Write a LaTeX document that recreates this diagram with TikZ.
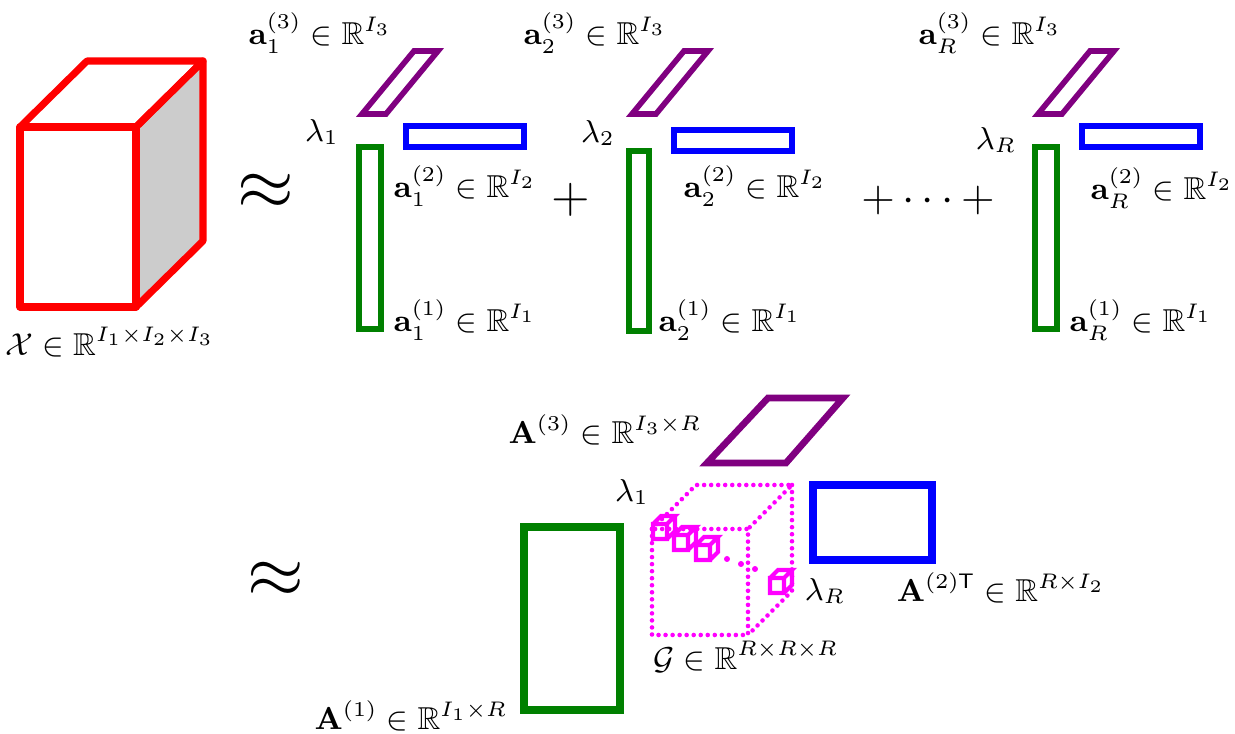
\documentclass[tikz,border=0pt]{standalone}
\usepackage{amsmath,amssymb}
\usepackage{tikz}
\usetikzlibrary{calc}
\definecolor{cpred}{HTML}{FF0000}
\definecolor{cpgreen}{HTML}{008000}
\definecolor{cpblue}{HTML}{0000FF}
\definecolor{cppurple}{HTML}{800080}
\definecolor{cpmag}{HTML}{FF00FF}
\definecolor{cpgray}{HTML}{CCCCCC}
\tikzset{
  tensor/.style={draw=cpred, line width=2pt, line join=round},
  modeone/.style={draw=cpgreen, line width=1.8pt},
  modetwo/.style={draw=cpblue, line width=1.8pt},
  modethree/.style={draw=cppurple, line width=1.6pt, line join=miter, miter limit=4},
  core/.style={draw=cpmag, line width=1.3pt, line cap=round, dash pattern=on 0pt off 2pt},
  minicube/.style={draw=cpmag, line width=1.2pt},
  lbl/.style={inner sep=1pt, font=\small},
  op/.style={inner sep=0pt}
}
\begin{document}
\begin{tikzpicture}[x=0.01cm, y=-0.01cm]
  \useasboundingbox (0,0) rectangle (1235,734);
  % data tensor
  \filldraw[tensor, fill=cpgray] (136,127) -- (203,61) -- (203,241) -- (136,307) -- cycle;
  \draw[tensor] (20,127) -- (87,61) -- (203,61) -- (136,127) -- cycle;
  \draw[tensor] (20,127) rectangle (136,307);
  \node[lbl] (xlab) at (110,342) {$\mathcal{X} \in \mathbb{R}^{I_1\times I_2\times I_3}$};
  \node[op, font=\huge] (approx1) at (266,192) {$\approx$};
  % rank-one term 1
  \draw[modethree] (362,114) -- (386,114) -- (438,51) -- (414,51) -- cycle;
  \draw[modetwo] (406,126) rectangle (524,147);
  \draw[modeone] (359,147) rectangle (381,329);
  \node[lbl] (lam1) at (322,132) {$\lambda_1$};
  \node[lbl] (a13) at (320,33) {$\mathbf{a}_1^{(3)} \in \mathbb{R}^{I_3}$};
  \node[lbl] (a12) at (465,186) {$\mathbf{a}_1^{(2)} \in \mathbb{R}^{I_2}$};
  \node[lbl] (a11) at (465,320) {$\mathbf{a}_1^{(1)} \in \mathbb{R}^{I_1}$};
  \node[op, font=\Large] (plus1) at (571,200) {$+$};
  % rank-one term 2
  \draw[modethree] (632,114) -- (656,114) -- (708,51) -- (684,51) -- cycle;
  \draw[modetwo] (674,130) rectangle (792,151);
  \draw[modeone] (629,151) rectangle (649,331);
  \node[lbl] (lam2) at (598,133) {$\lambda_2$};
  \node[lbl] (a23) at (595,33) {$\mathbf{a}_2^{(3)} \in \mathbb{R}^{I_3}$};
  \node[lbl] (a22) at (755,186) {$\mathbf{a}_2^{(2)} \in \mathbb{R}^{I_2}$};
  \node[lbl] (a21) at (730,320) {$\mathbf{a}_2^{(1)} \in \mathbb{R}^{I_1}$};
  \node[op, font=\Large, scale=0.87] (plusdots) at (928,200) {$+\cdots+$};
  % rank-one term R
  \draw[modethree] (1038,114) -- (1062,114) -- (1114,51) -- (1090,51) -- cycle;
  \draw[modetwo] (1082,126) rectangle (1200,147);
  \draw[modeone] (1035,147) rectangle (1057,329);
  \node[lbl] (lamR) at (996,140) {$\lambda_R$};
  \node[lbl] (aR3) at (990,33) {$\mathbf{a}_R^{(3)} \in \mathbb{R}^{I_3}$};
  \node[lbl] (aR2) at (1162,188) {$\mathbf{a}_R^{(2)} \in \mathbb{R}^{I_2}$};
  \node[lbl] (aR1) at (1141,320) {$\mathbf{a}_R^{(1)} \in \mathbb{R}^{I_1}$};
  % factor-matrix form
  \node[op, font=\huge] (approx2) at (276,580) {$\approx$};
  \draw[modeone, line width=2pt] (524,527) rectangle (620,710);
  \node[lbl] (A1) at (411,716) {$\mathbf{A}^{(1)} \in \mathbb{R}^{I_1\times R}$};
  \draw[modethree, line width=1.9pt] (707,463) -- (786,463) -- (843,398) -- (768,398) -- cycle;
  \node[lbl] (A3) at (605,430) {$\mathbf{A}^{(3)} \in \mathbb{R}^{I_3\times R}$};
  \draw[modetwo, line width=2pt] (813,485) rectangle (932,560);
  \node[lbl] (A2) at (1001,588) {$\mathbf{A}^{(2)\mathsf{T}} \in \mathbb{R}^{R\times I_2}$};
  % core tensor
  \draw[core] (652,529) rectangle (748,635);
  \draw[core] (652,529) -- (696,485) -- (792,485) -- (748,529);
  \draw[core] (792,485) -- (792,591) -- (748,635);
  \draw[minicube] (653,524) rectangle (667,539) (653,524) -- (661,516) -- (675,516) -- (667,524) (675,516) -- (675,531) -- (667,539);
  \draw[minicube] (674,535) rectangle (688,550) (674,535) -- (682,527) -- (696,527) -- (688,535) (696,527) -- (696,542) -- (688,550);
  \draw[minicube] (696,545) rectangle (710,560) (696,545) -- (704,537) -- (718,537) -- (710,545) (718,537) -- (718,552) -- (710,560);
  \draw[minicube] (770,578) rectangle (784,593) (770,578) -- (778,570) -- (792,570) -- (784,578) (792,570) -- (792,585) -- (784,593);
  \fill[cpmag] (727,559) circle (3) (741,564) circle (3) (755,569) circle (3);
  \node[lbl] (lamc1) at (632,492) {$\lambda_1$};
  \node[lbl] (lamcR) at (825,591) {$\lambda_R$};
  \node[lbl] (G) at (746,657) {$\mathcal{G} \in \mathbb{R}^{R\times R\times R}$};
\end{tikzpicture}
\end{document}
